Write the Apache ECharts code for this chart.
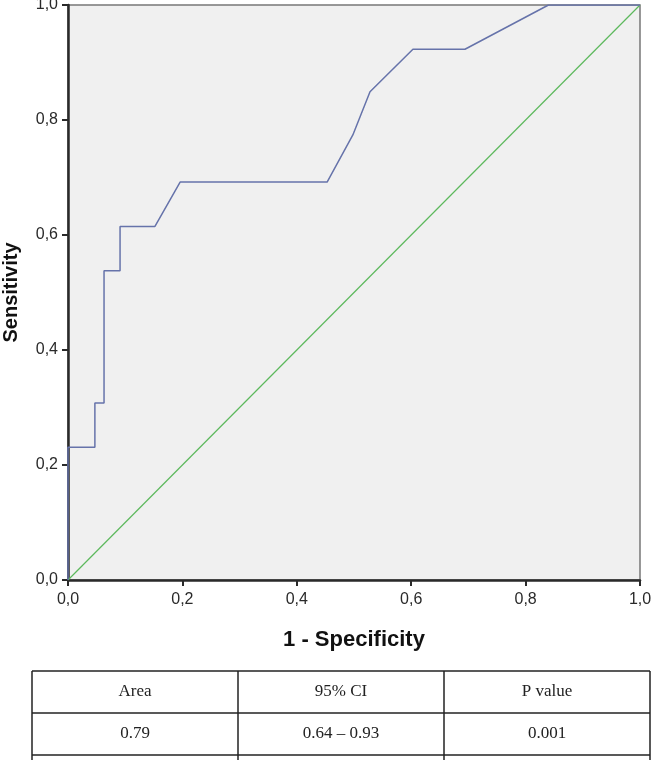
<!DOCTYPE html>
<html>
<head>
<meta charset="utf-8">
<script src="https://cdn.jsdelivr.net/npm/echarts@6/dist/echarts.min.js"></script>
<style>
  html, body { margin: 0; padding: 0; background: #fff; }
  #main { width: 657px; height: 760px; }
</style>
</head>
<body>
<div id="main"></div>
<script>
// ROC curve points (1 - specificity, sensitivity)
var rocX = [0, 0, 0.047, 0.047, 0.063, 0.063, 0.091, 0.091, 0.152, 0.196, 0.453, 0.498, 0.528, 0.603, 0.694, 0.84, 1.0];
var rocY = [0, 0.231, 0.231, 0.308, 0.308, 0.538, 0.538, 0.615, 0.615, 0.692, 0.692, 0.774, 0.849, 0.923, 0.923, 1.0, 1.0];
var refX = [0, 1];
var refY = [0, 1];

// summary table
var tableHeader = ['Area', '95% CI', 'P value'];
var tableRow = ['0.79', '0.64 \u2013 0.93', '0.001'];

var rocData = rocX.map(function (x, i) { return [x, rocY[i]]; });
var refData = refX.map(function (x, i) { return [x, refY[i]]; });

function fmt(v) {
    return v.toFixed(1).replace('.', ',');
}

// table layout
var tblLeft = 32, tblRight = 650, tblTop = 671, rowH = 42;
var colEdges = [32, 238, 444, 650];
var lineColor = '#222';
var graphics = [];
// horizontal lines
[tblTop, tblTop + rowH, tblTop + 2 * rowH].forEach(function (y) {
    graphics.push({
        type: 'line',
        shape: { x1: tblLeft, y1: y, x2: tblRight, y2: y },
        style: { stroke: lineColor, lineWidth: 1.5 }
    });
});
// vertical lines (table continues past the bottom)
colEdges.forEach(function (x) {
    graphics.push({
        type: 'line',
        shape: { x1: x, y1: tblTop, x2: x, y2: 760 },
        style: { stroke: lineColor, lineWidth: 1.5 }
    });
});
[tableHeader, tableRow].forEach(function (row, r) {
    row.forEach(function (txt, c) {
        graphics.push({
            type: 'text',
            x: (colEdges[c] + colEdges[c + 1]) / 2,
            y: tblTop + rowH * r + rowH / 2,
            style: {
                text: txt,
                fontFamily: 'Liberation Serif',
                fontSize: 17,
                fill: '#222',
                align: 'center',
                verticalAlign: 'middle'
            }
        });
    });
});

var chart = echarts.init(document.getElementById('main'));
var option = {
    animation: false,
    backgroundColor: '#fff',
    grid: {
        left: 68,
        top: 5,
        width: 572,
        height: 575,
        outerBoundsMode: 'none',
        show: true,
        backgroundColor: '#f0f0f0',
        borderColor: '#777',
        borderWidth: 1.5
    },
    xAxis: {
        type: 'value',
        min: 0,
        max: 1,
        interval: 0.2,
        name: '1 - Specificity',
        nameLocation: 'middle',
        nameGap: 49,
        nameTextStyle: { fontFamily: 'Liberation Sans', fontSize: 22, fontWeight: 'bold', color: '#111' },
        axisLine: { show: true, onZero: false, lineStyle: { color: '#2a2a2a', width: 2.5 } },
        axisTick: { show: true, length: 6, lineStyle: { color: '#2a2a2a', width: 2 } },
        axisLabel: { formatter: fmt, fontFamily: 'Liberation Sans', fontSize: 16, color: '#2a2a2a', margin: 12 },
        splitLine: { show: false }
    },
    yAxis: {
        type: 'value',
        min: 0,
        max: 1,
        interval: 0.2,
        name: 'Sensitivity',
        nameLocation: 'middle',
        nameGap: 47,
        nameTextStyle: { fontFamily: 'Liberation Sans', fontSize: 20, fontWeight: 'bold', color: '#111' },
        axisLine: { show: true, onZero: false, lineStyle: { color: '#2a2a2a', width: 2.5 } },
        axisTick: { show: true, length: 6, lineStyle: { color: '#2a2a2a', width: 2 } },
        axisLabel: { formatter: fmt, fontFamily: 'Liberation Sans', fontSize: 16, color: '#2a2a2a', margin: 10 },
        splitLine: { show: false }
    },
    series: [
        {
            name: 'Reference',
            type: 'line',
            data: refData,
            showSymbol: false,
            lineStyle: { color: '#5cb85c', width: 1.2 }
        },
        {
            name: 'ROC',
            type: 'line',
            data: rocData,
            showSymbol: false,
            lineStyle: { color: '#6673aa', width: 1.5 }
        }
    ],
    graphic: graphics
};
chart.setOption(option);
</script>
</body>
</html>
